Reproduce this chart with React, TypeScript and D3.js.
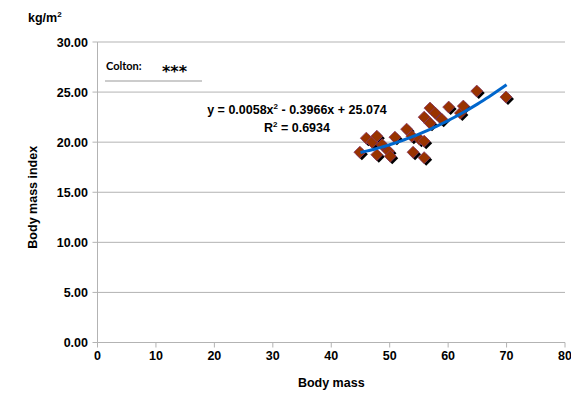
import React from 'react';
import * as d3 from 'd3';

// Colton: body mass vs body mass index
const bodyMass = [44.9, 46.0, 47.0, 47.8, 47.8, 48.7, 49.8, 50.1, 50.9, 52.9, 53.8, 54.0, 55.1, 55.9, 55.9, 55.9, 56.9, 56.9, 57.8, 58.9, 60.1, 62.1, 62.6, 64.9, 69.9];
const bmi = [19.0, 20.4, 20.0, 20.6, 18.75, 19.75, 19.1, 18.6, 20.5, 21.3, 20.6, 19.0, 20.3, 20.1, 18.45, 22.5, 23.4, 21.9, 22.9, 22.3, 23.5, 22.9, 23.6, 25.1, 24.5];
const trendCoef = [0.0058, -0.3966, 25.074];
const trendRange = [45, 70];
const xTicks = [0, 10, 20, 30, 40, 50, 60, 70, 80];
const yTicks = [0, 5, 10, 15, 20, 25, 30];

const W = 571;
const H = 394;
const left = 97.5;
const right = 565;
const top = 42;
const bottom = 342.5;

export default function App() {
  const x = d3.scaleLinear().domain([0, 80]).range([left, right]);
  const y = d3.scaleLinear().domain([0, 30]).range([bottom, top]);
  const font = "'Liberation Sans', Arial, sans-serif";
  const grid = '#b3b3b3';

  const trendPts = d3.range(trendRange[0], trendRange[1] + 0.01, 0.5).map(v => [v, trendCoef[0] * v * v + trendCoef[1] * v + trendCoef[2]] as [number, number]);
  const line = d3.line<[number, number]>().x(d => x(d[0])).y(d => y(d[1])).curve(d3.curveMonotoneX);

  const diamond = (cx: number, cy: number, r: number) => `M${cx},${cy - r}L${cx + r},${cy}L${cx},${cy + r}L${cx - r},${cy}Z`;

  return (
    <svg width={W} height={H} style={{ position: 'absolute', left: 0, top: 0, background: '#fff' }} fontFamily={font}>
      {yTicks.filter(t => t > 0).map(t => (
        <line key={'g' + t} x1={left} x2={right} y1={y(t)} y2={y(t)} stroke={grid} strokeWidth={1} />
      ))}
      <line x1={left} x2={left} y1={top} y2={bottom} stroke={grid} strokeWidth={1} />
      <line x1={left} x2={right} y1={bottom} y2={bottom} stroke={grid} strokeWidth={1} />
      {yTicks.map(t => (
        <g key={'y' + t}>
          <line x1={left - 5} x2={left} y1={y(t)} y2={y(t)} stroke={grid} />
          <text x={88} y={y(t) + 4.5} textAnchor="end" fontSize={12.5} fontWeight="bold" fill="#000">{t.toFixed(2)}</text>
        </g>
      ))}
      {xTicks.map(t => (
        <g key={'x' + t}>
          <line x1={x(t)} x2={x(t)} y1={bottom} y2={bottom + 5} stroke={grid} />
          <text x={x(t)} y={360} textAnchor="middle" fontSize={12.5} fontWeight="bold" fill="#000">{t}</text>
        </g>
      ))}
      <text x={x(40)} y={387} textAnchor="middle" fontSize={12.5} fontWeight="bold">Body mass</text>
      <text transform={`translate(37,${(top + bottom) / 2 + 5}) rotate(-90)`} textAnchor="middle" fontSize={12.5} fontWeight="bold">Body mass index</text>
      <text x={28} y={22} fontSize={12.5} fontWeight="bold">kg/m<tspan fontSize={8} dy={-5}>2</tspan></text>

      <text x={106} y={70} fontSize={11} fontWeight="bold" fontFamily="Lato, 'Open Sans', sans-serif">Colton:</text>
      <text x={162} y={77} fontSize={16} fontWeight="bold" fontFamily="'DejaVu Sans', sans-serif">***</text>
      <line x1={105} x2={202} y1={81} y2={81} stroke="#999" strokeWidth={1} />

      {bodyMass.map((m, i) => (
        <path key={'s' + i} d={diamond(x(m) + 2, y(bmi[i]) + 2, 6)} fill="#000" />
      ))}
      {bodyMass.map((m, i) => (
        <path key={'p' + i} d={diamond(x(m), y(bmi[i]), 6)} fill="#993300" stroke="#8a3a6a" strokeWidth={0.8} />
      ))}
      <path d={line(trendPts) || ''} fill="none" stroke="#0066cc" strokeWidth={3} />

      <text x={297} y={114} textAnchor="middle" fontSize={12.5} fontWeight="bold">
        y = 0.0058x<tspan fontSize={8} dy={-5}>2</tspan><tspan dy={5}> - 0.3966x + 25.074</tspan>
      </text>
      <text x={297} y={132} textAnchor="middle" fontSize={12.5} fontWeight="bold">
        R<tspan fontSize={8} dy={-5}>2</tspan><tspan dy={5}> = 0.6934</tspan>
      </text>
    </svg>
  );
}
